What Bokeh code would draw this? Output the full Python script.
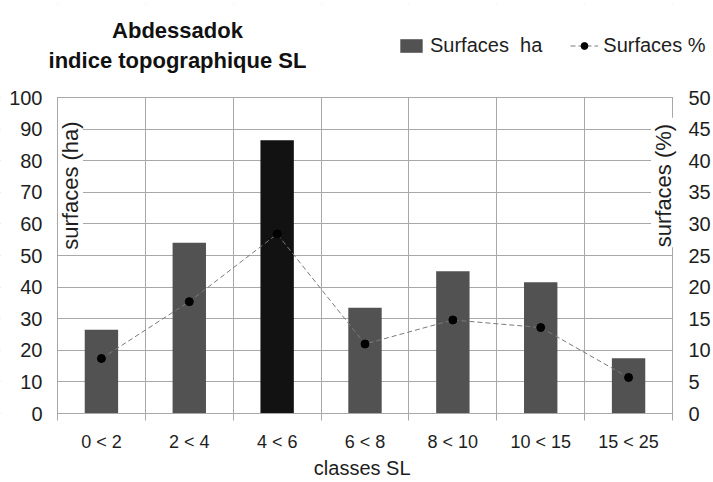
import math
from bokeh.plotting import figure
from bokeh.models import (Range1d, LinearAxis, FixedTicker, Label, Legend,
                          LegendItem, ColumnDataSource, BoxAnnotation)
from bokeh.embed import file_html
from bokeh.resources import INLINE

# ---- data ----
classes = ["0 < 2", "2 < 4", "4 < 6", "6 < 8", "8 < 10", "10 < 15", "15 < 25"]
surfaces_ha = [26.5, 54.0, 86.5, 33.5, 45.0, 41.5, 17.5]
surfaces_pct = [8.7, 17.7, 28.4, 11.0, 14.8, 13.6, 5.7]
left_ticks = [0, 10, 20, 30, 40, 50, 60, 70, 80, 90, 100]
right_ticks = [0, 5, 10, 15, 20, 25, 30, 35, 40, 45, 50]
bar_colors = ["#525252", "#525252", "#121212", "#525252", "#525252", "#525252", "#525252"]

FONT = "Liberation Sans"
TXT = "#1e1e1e"
GRID = "#a8a8a8"

# ---- layout (pixels) ----
W, H = 713, 482
PLOT_L, PLOT_R, PLOT_T, PLOT_B = 57, 672, 97, 413   # visible plotting area
FRAME_T = 4
N = len(classes)
px_per_x = (PLOT_R - PLOT_L) / N
px_per_y = (PLOT_B - PLOT_T) / 100.0
X0 = -PLOT_L / px_per_x
X1 = N + (W - PLOT_R) / px_per_x
Y0 = -(H - PLOT_B) / px_per_y
Y1 = (PLOT_B - FRAME_T) / px_per_y

xpos = [i + 0.5 for i in range(N)]
bounds = list(range(N + 1))

src = ColumnDataSource(dict(x=xpos, ha=surfaces_ha, pct=surfaces_pct, color=bar_colors))

p = figure(width=W, height=H, x_range=Range1d(X0, X1), y_range=Range1d(Y0, Y1),
           output_backend="svg", toolbar_location=None,
           min_border_left=0, min_border_right=0, min_border_top=FRAME_T,
           min_border_bottom=0)
p.background_fill_color = "white"
p.border_fill_color = "white"
p.outline_line_color = None

p.extra_y_ranges = {"pct": Range1d(Y0 / 2, Y1 / 2)}

# grids
p.xgrid.ticker = FixedTicker(ticks=bounds)
p.ygrid.ticker = FixedTicker(ticks=left_ticks)
p.xgrid.grid_line_color = GRID
p.ygrid.grid_line_color = GRID

# blank everything outside the plotting area (grid lines only)
eps_x = 0.6 / px_per_x
eps_y = 0.6 / px_per_y
for kw in (dict(bottom=100 + eps_y), dict(top=-eps_y),
           dict(right=-eps_x), dict(left=N + eps_x)):
    p.add_layout(BoxAnnotation(fill_color="white", fill_alpha=1.0, line_color=None,
                               level="underlay", **kw))

# bars
r_bar = p.vbar(x="x", top="ha", width=0.38, fill_color="color", line_color=None, source=src)

# line + markers
r_line = p.line(x="x", y="pct", y_range_name="pct", line_color="#7a7a7a", line_width=1,
                line_dash="5 3", source=src)
r_pts = p.scatter(x="x", y="pct", y_range_name="pct", size=8, fill_color="#000000",
                  line_color="#000000", source=src)

# left axis (drawn at x = 0)
ya = p.yaxis[0]
ya.fixed_location = 0
ya.ticker = FixedTicker(ticks=left_ticks)
ya.bounds = (0, 100)
ya.major_label_text_font = FONT
ya.major_label_text_font_size = "20px"
ya.major_label_text_color = TXT
ya.major_tick_out = 0
ya.major_tick_in = 0
ya.minor_tick_line_color = None
ya.axis_line_color = None
ya.major_label_standoff = 15

# right axis (drawn at x = N)
ra = LinearAxis(y_range_name="pct", ticker=FixedTicker(ticks=right_ticks), bounds=(0, 50),
                fixed_location=N)
ra.major_label_text_font = FONT
ra.major_label_text_font_size = "20px"
ra.major_label_text_color = TXT
ra.major_tick_out = 0
ra.major_tick_in = 0
ra.minor_tick_line_color = None
ra.axis_line_color = None
ra.major_label_standoff = 16
p.add_layout(ra, "right")

# x axis (drawn at y = 0)
xa = p.xaxis[0]
xa.fixed_location = 0
xa.ticker = FixedTicker(ticks=xpos, minor_ticks=bounds)
xa.bounds = (0, N)
xa.major_label_overrides = {xv: c for xv, c in zip(xpos, classes)}
xa.major_label_text_font = FONT
xa.major_label_text_font_size = "18px"
xa.major_label_text_color = TXT
xa.major_tick_out = 7
xa.major_tick_in = 0
xa.major_tick_line_color = None
xa.minor_tick_out = 7
xa.minor_tick_in = 0
xa.minor_tick_line_color = GRID
xa.axis_line_color = GRID
xa.major_label_standoff = 11
xa.axis_label = "classes  SL"
xa.axis_label_text_font = FONT
xa.axis_label_text_font_size = "20px"
xa.axis_label_text_font_style = "normal"
xa.axis_label_text_color = TXT
xa.axis_label_standoff = 2

# axis titles inside the plot area (screen units from the frame's bottom-left)
FB = H  # frame bottom in page pixels
for txt, xx in (("surfaces  (ha)", 70), ("surfaces  (%)", 663)):
    p.add_layout(Label(x=xx, y=FB - 182, x_units="screen", y_units="screen", text=txt,
                       angle=math.pi / 2, text_align="center", text_baseline="middle",
                       text_font=FONT, text_font_size="22px", text_color=TXT,
                       background_fill_color="white"))

# title (two lines)
for txt, yy in (("Abdessadok", 30), ("indice topographique SL", 60)):
    p.add_layout(Label(x=177, y=FB - yy, x_units="screen", y_units="screen", text=txt,
                       text_align="center", text_baseline="alphabetic",
                       text_font=FONT, text_font_size="22px", text_font_style="bold",
                       text_color="#111111"))

# legend
legend = Legend(items=[LegendItem(label="Surfaces  ha", renderers=[r_bar], index=0),
                       LegendItem(label="Surfaces %", renderers=[r_line, r_pts], index=0)],
                orientation="horizontal", location=(397, FB - 57))
legend.label_text_font = FONT
legend.label_text_font_size = "20px"
legend.label_text_color = TXT
legend.glyph_width = 28
legend.glyph_height = 17
legend.label_standoff = 5
legend.spacing = 28
legend.padding = 0
legend.margin = 0
legend.border_line_color = None
legend.background_fill_alpha = 0
p.add_layout(legend)

open("out.html", "w").write(file_html(p, INLINE))
